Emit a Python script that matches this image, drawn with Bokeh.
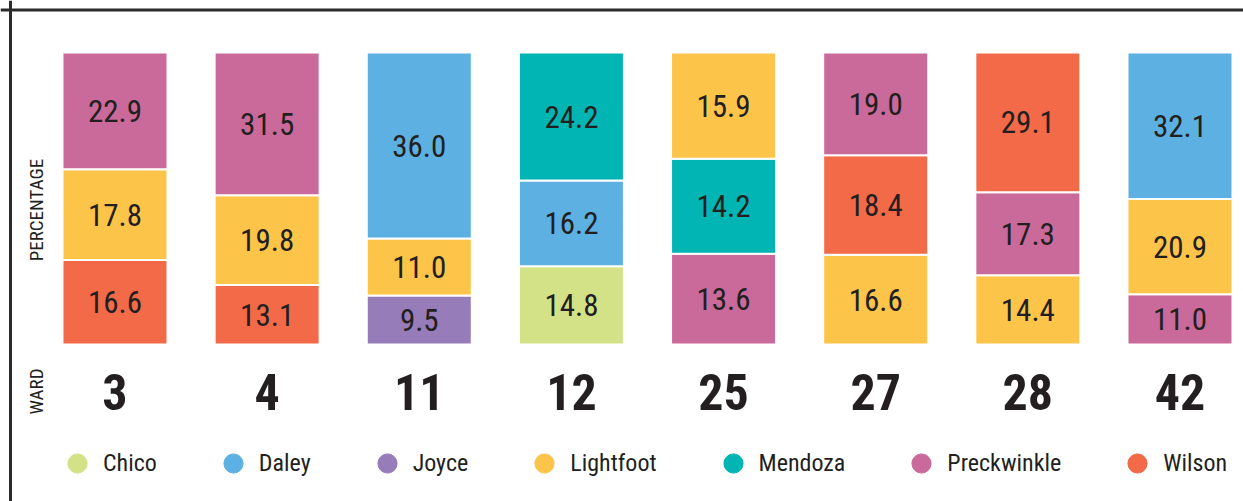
import math
from bokeh.plotting import figure
from bokeh.models import ColumnDataSource, Span, Label, Legend, LegendItem, Range1d
from bokeh.core.properties import value
from bokeh.embed import file_html
from bokeh.resources import INLINE

# ---------------- data ----------------
wards = ["3", "4", "11", "12", "25", "27", "28", "42"]
bottom_cand = ["Wilson", "Wilson", "Joyce", "Chico", "Preckwinkle", "Lightfoot", "Lightfoot", "Preckwinkle"]
bottom_val = [16.6, 13.1, 9.5, 14.8, 13.6, 16.6, 14.4, 11.0]
middle_cand = ["Lightfoot", "Lightfoot", "Lightfoot", "Daley", "Mendoza", "Wilson", "Preckwinkle", "Lightfoot"]
middle_val = [17.8, 19.8, 11.0, 16.2, 14.2, 18.4, 17.3, 20.9]
top_cand = ["Preckwinkle", "Preckwinkle", "Daley", "Mendoza", "Lightfoot", "Preckwinkle", "Wilson", "Daley"]
top_val = [22.9, 31.5, 36.0, 24.2, 15.9, 19.0, 29.1, 32.1]

candidates = ["Chico", "Daley", "Joyce", "Lightfoot", "Mendoza", "Preckwinkle", "Wilson"]
cand_colors = ["#d4e287", "#5cb1e2", "#977cba", "#fdc44a", "#00b5b3", "#ca6a9a", "#f26a48"]

# ---------------- layout ----------------
W, H = 1243, 501
X0, DX = 114.5, 152.14      # canvas px of first bar centre, px per ward
Y1, Y0 = 52.0, 344.0        # canvas px of bar top / bar bottom
PPU = Y0 - Y1

def px_to_x(cx):
    return (cx - X0) / DX

def px_to_y(cy):
    return (Y0 - cy) / PPU

FONT = "'Roboto Condensed', 'Liberation Sans Narrow', 'Noto Sans Condensed', 'DejaVu Sans Condensed', sans-serif"
INK = "#231f20"
color_of = dict(zip(candidates, cand_colors))

p = figure(width=W, height=H, output_backend="svg", toolbar_location=None,
           x_axis_location=None, y_axis_location=None, min_border=0,
           x_range=Range1d(px_to_x(0), px_to_x(W)), y_range=Range1d(px_to_y(H), px_to_y(0)))
p.grid.visible = False
p.outline_line_color = None
p.background_fill_color = "white"
p.border_fill_color = "white"

# stacked, normalised segments
xs, bots, tops, mids, cols, labels = [], [], [], [], [], []
for i in range(len(wards)):
    vals = [bottom_val[i], middle_val[i], top_val[i]]
    cands = [bottom_cand[i], middle_cand[i], top_cand[i]]
    total = sum(vals)
    acc = 0.0
    for v, c in zip(vals, cands):
        b = acc / total
        acc += v
        t = acc / total
        xs.append(i); bots.append(b); tops.append(t); mids.append((b + t) / 2)
        cols.append(color_of[c]); labels.append(f"{v:.1f}")

src = ColumnDataSource(dict(x=xs, bottom=bots, top=tops, mid=mids, color=cols, label=labels))
p.vbar(x="x", bottom="bottom", top="top", width=105 / DX, fill_color="color",
       line_color="white", line_width=2, source=src)
p.text(x="x", y="mid", text="label", source=src, text_align="center", text_baseline="middle",
       text_font=value(FONT), text_font_size="31px", text_color=INK)

# ward numbers
wsrc = ColumnDataSource(dict(x=list(range(len(wards))), y=[px_to_y(391.5)] * len(wards), t=wards))
p.text(x="x", y="y", text="t", source=wsrc, text_align="center", text_baseline="middle",
       text_font=value(FONT), text_font_size="50px", text_font_style="bold", text_color=INK)

# rotated side labels
for txt, cy in [("PERCENTAGE", 209.5), ("WARD", 391.0)]:
    p.add_layout(Label(x=px_to_x(36), y=px_to_y(cy), text=txt, angle=math.pi / 2,
                       text_align="center", text_baseline="middle",
                       text_font=FONT, text_font_size="19px", text_color=INK))

# border (left and top)
p.add_layout(Span(location=px_to_x(10), dimension="height", line_color="#2b2b2b", line_width=3))
p.add_layout(Span(location=px_to_y(9.5), dimension="width", line_color="#2b2b2b", line_width=3))

# legend (hidden placeholder points, only their legend swatches are shown)
nan = float("nan")
items = []
for c, col in zip(candidates, cand_colors):
    r = p.scatter(x=[nan], y=[nan], marker="circle", size=19, fill_color=col, line_color=col)
    items.append(LegendItem(label=c, renderers=[r]))
legend = Legend(items=items, orientation="horizontal", location=(53, 14),
                glyph_width=48, glyph_height=48, label_standoff=2, spacing=52,
                padding=0, margin=0, border_line_alpha=0, background_fill_alpha=0,
                label_text_font=FONT, label_text_font_size="24px", label_text_color=INK)
p.add_layout(legend)

open("out.html", "w").write(file_html(p, INLINE))
